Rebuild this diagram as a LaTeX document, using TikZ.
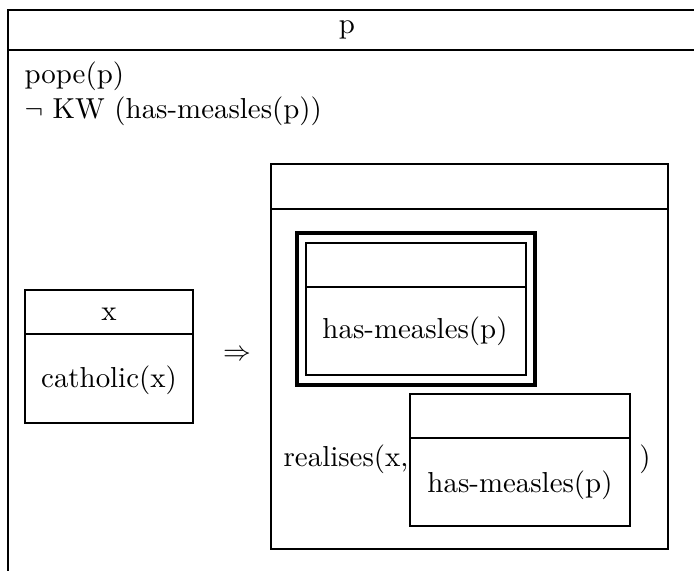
\documentclass[tikz,border=0pt]{standalone}
\begin{document}
\begin{tikzpicture}[x=0.36pt,y=-0.36pt,
  every node/.style={font=\fontsize{10.4}{12.5}\selectfont},
  thinbox/.style={line width=0.6pt},
  thickbox/.style={line width=1.4pt}]
\useasboundingbox (0,0) rectangle (694,571);
% outer box for p (runs off to the right and bottom)
\draw[thinbox] (694,10) -- (8,10) -- (8,571);
\draw[thinbox] (8,50) -- (694,50);
\node (refp) at (347,30) {p};
\node[anchor=base west,inner sep=0] (pope) at (24,84) {pope(p)};
\node[anchor=base west,inner sep=0] (kw) at (24,119) {$\neg$ KW (has-measles(p))};
% box for x
\draw[thinbox] (25,290) rectangle (193,423);
\draw[thinbox] (25,334) -- (193,334);
\node (refx) at (109,314) {x};
\node (cath) at (109,380) {catholic(x)};
\node (impl) at (237,355) {$\Rightarrow$};
% consequent box
\draw[thinbox] (271,164) rectangle (668,549);
\draw[thinbox] (271,209) -- (668,209);
% double-framed box
\draw[thickbox] (297,233) rectangle (535,385);
\draw[thinbox] (306,243) rectangle (526,375);
\draw[thinbox] (306,287) -- (526,287);
\node (meas1) at (415,331) {has-measles(p)};
% realises(x, ...)
\draw[thinbox] (410,394) rectangle (630,526);
\draw[thinbox] (410,438) -- (630,438);
\node (meas2) at (520,485) {has-measles(p)};
\node[anchor=base east,inner sep=0] (real) at (409,467) {realises(x,};
\node[anchor=base,inner sep=0] (close) at (645,467) {)};
\end{tikzpicture}
\end{document}
